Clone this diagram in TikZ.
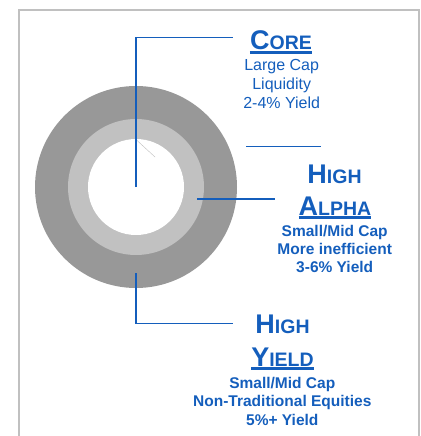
\documentclass[tikz,border=0pt]{standalone}
\usepackage{fontspec}
\setmainfont{Liberation Sans}
\usetikzlibrary{positioning}

\definecolor{tierblue}{RGB}{20,94,188}
\definecolor{ringdark}{RGB}{152,152,152}
\definecolor{ringlight}{RGB}{193,193,193}
\definecolor{framegray}{RGB}{192,192,192}

% big first letter, smaller capitals after it
\newcommand{\tiercaps}[2]{{\fontsize{27}{27}\selectfont #1}{\fontsize{19.5}{19.5}\selectfont #2}}

\begin{document}
\begin{tikzpicture}[x=1pt, y=-1pt,
  head/.style={inner sep=0pt, anchor=base, text=tierblue, font=\bfseries},
  detail/.style={inner sep=0pt, anchor=north, text=tierblue, align=center,
                 font=\fontsize{15.5}{18.4}\selectfont\bfseries},
  leader/.style={draw=tierblue, line width=1.2pt},
  bar/.style={draw=tierblue, line width=2.5pt},
]
  \useasboundingbox (0,0) rectangle (420,436);
  \draw[framegray, line width=2pt] (19,10) rectangle (419,445);

  % the three rings
  \coordinate (hub) at (136,187);
  \fill[ringdark] (hub) circle[radius=101pt];
  \fill[ringlight] (hub) circle[radius=68pt];
  \fill[white] (hub) circle[radius=48pt];
  \draw[black!25, line width=0.4pt] (136.5,140) -- (155,157);

  % core
  \node[head] (core) at (281,50) {\tiercaps{C}{ORE}};
  \draw[bar] ([yshift=-2.5pt]core.base west) -- ([yshift=-2.5pt]core.base east);
  \node[detail, font=\fontsize{16}{19}\selectfont] (coretext) at (281.7,59.5)
    {Large Cap\\ Liquidity\\ 2-4\% Yield};
  \coordinate (coreend) at (233,37.7);
  \draw[leader] (hub) |- (coreend);

  % high alpha
  \node[head] (alphatop) at (334.5,183.3) {\tiercaps{H}{IGH}};
  \node[head] (alpha) at (335,215) {\tiercaps{A}{LPHA}};
  \draw[bar] ([yshift=-2.5pt]alpha.base west) -- ([yshift=-2.5pt]alpha.base east);
  \node[detail] (alphatext) at (334.7,224.7)
    {Small/Mid Cap\\ More inefficient\\ 3-6\% Yield};
  \coordinate (alphastub) at (246,146.7);
  \coordinate (alphastubend) at (321,146.7);
  \draw[leader] (alphastub) -- (alphastubend);
  \coordinate (alphatip) at (197,199);
  \coordinate (alphaend) at (275,199);
  \draw[leader] (alphatip) -- (alphaend);

  % high yield
  \node[head] (yieldtop) at (282.5,333.3) {\tiercaps{H}{IGH}};
  \node[head] (yield) at (282.5,366) {\tiercaps{Y}{IELD}};
  \draw[bar] ([yshift=-2.5pt]yield.base west) -- ([yshift=-2.5pt]yield.base east);
  \node[detail] (yieldtext) at (282.3,377)
    {Small/Mid Cap\\ Non-Traditional Equities\\ 5\%+ Yield};
  \coordinate (yieldtip) at (136,273);
  \coordinate (yieldend) at (233,323.3);
  \draw[leader] (yieldtip) |- (yieldend);
\end{tikzpicture}
\end{document}
